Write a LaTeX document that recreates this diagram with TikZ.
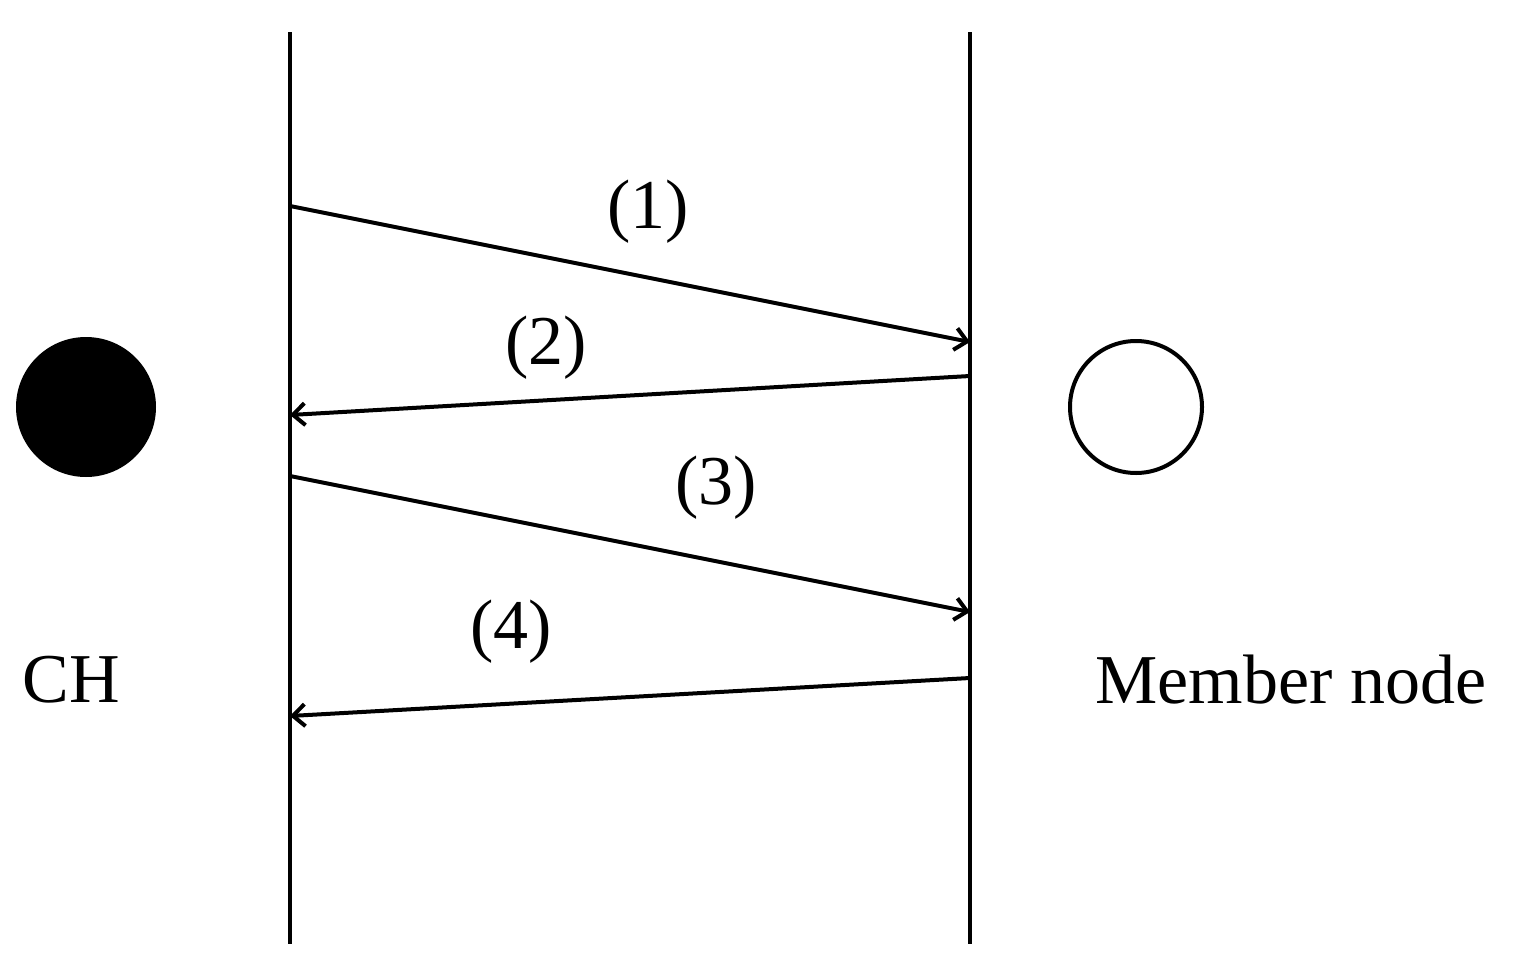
\documentclass[tikz,border=0pt]{standalone}
\usepackage{fontspec}
\setmainfont{Liberation Serif}
\usetikzlibrary{arrows.meta}
\begin{document}
\begin{tikzpicture}[x=0.5pt,y=-0.5pt,
  life/.style={line width=2pt},
  msg/.style={line width=2pt,-{Straight Barb[length=6pt,width=11pt,line width=2pt]}},
  lbl/.style={font=\fontsize{35}{40}\selectfont,inner sep=0pt}]
\useasboundingbox (0,0) rectangle (1526,969);
\coordinate (l1) at (290,32); \coordinate (l2) at (290,944);
\coordinate (r1) at (970,32); \coordinate (r2) at (970,944);
\draw[life] (l1) -- (l2);
\draw[life] (r1) -- (r2);
\coordinate (a1) at (290,206); \coordinate (b1) at (970,342);
\coordinate (a2) at (970,376); \coordinate (b2) at (290,415);
\coordinate (a3) at (290,476); \coordinate (b3) at (970,612);
\coordinate (a4) at (970,678); \coordinate (b4) at (290,716);
\draw[msg] (a1) -- (b1);
\draw[msg] (a2) -- (b2);
\draw[msg] (a3) -- (b3);
\draw[msg] (a4) -- (b4);
\node[lbl] (t1) at (648,212) {(1)};
\node[lbl] (t2) at (546,348) {(2)};
\node[lbl] (t3) at (716,488) {(3)};
\node[lbl] (t4) at (511,632) {(4)};
\node[circle,fill=black,minimum size=70pt,inner sep=0pt] (ch) at (86,407) {};
\node[circle,draw=black,line width=2pt,minimum size=66pt,inner sep=0pt] (mn) at (1136,407) {};
\node[lbl] (chl) at (71,680) {CH};
\node[lbl] (mnl) at (1291,680) {Member node};
\end{tikzpicture}
\end{document}
